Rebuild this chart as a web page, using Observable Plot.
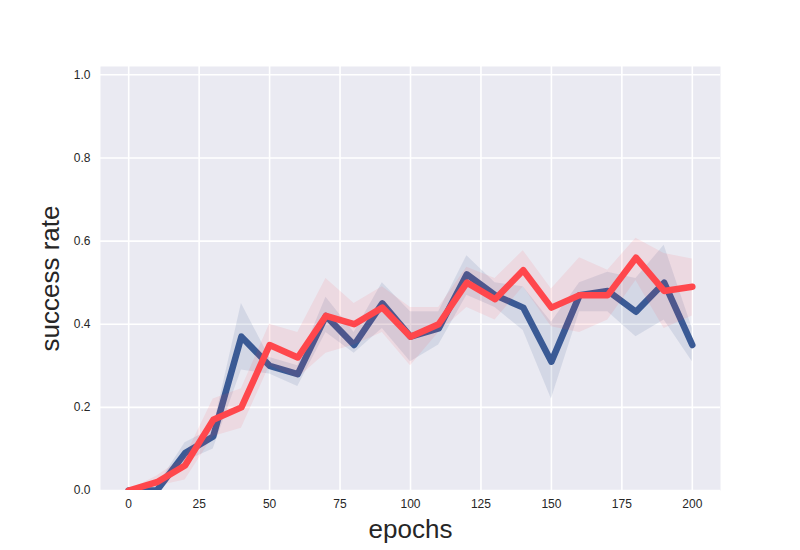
<!DOCTYPE html>
<html>
<head>
<meta charset="utf-8">
<script src="https://cdn.jsdelivr.net/npm/d3@7"></script>
<script src="https://cdn.jsdelivr.net/npm/@observablehq/plot@0.6"></script>
<style>
  html, body { margin: 0; padding: 0; background: #ffffff; }
  #chart { width: 800px; height: 550px; }
</style>
</head>
<body>
<div id="chart"></div>
<script>
const epochs = [0, 10, 20, 30, 40, 50, 60, 70, 80, 90, 100, 110, 120, 130, 140, 150, 160, 170, 180, 190, 200];
const blueMean = [0.00, 0.00, 0.09, 0.13, 0.37, 0.30, 0.28, 0.42, 0.35, 0.45, 0.37, 0.39, 0.52, 0.47, 0.44, 0.31, 0.47, 0.48, 0.43, 0.50, 0.35];
const blueLow  = [0.00, 0.00, 0.07, 0.10, 0.29, 0.28, 0.25, 0.38, 0.33, 0.39, 0.31, 0.35, 0.47, 0.44, 0.385, 0.22, 0.43, 0.43, 0.37, 0.41, 0.31];
const blueHigh = [0.00, 0.01, 0.115, 0.15, 0.45, 0.32, 0.30, 0.465, 0.38, 0.50, 0.43, 0.43, 0.565, 0.50, 0.49, 0.405, 0.50, 0.525, 0.51, 0.59, 0.39];
const redMean  = [0.00, 0.02, 0.06, 0.17, 0.20, 0.35, 0.32, 0.42, 0.40, 0.44, 0.37, 0.40, 0.50, 0.46, 0.53, 0.44, 0.47, 0.47, 0.56, 0.48, 0.49];
const redLow   = [0.00, 0.01, 0.025, 0.13, 0.15, 0.30, 0.27, 0.33, 0.35, 0.38, 0.30, 0.38, 0.44, 0.41, 0.49, 0.394, 0.38, 0.41, 0.505, 0.39, 0.42];
const redHigh  = [0.00, 0.035, 0.08, 0.22, 0.245, 0.40, 0.38, 0.51, 0.45, 0.49, 0.44, 0.44, 0.537, 0.51, 0.577, 0.485, 0.56, 0.53, 0.607, 0.57, 0.557];

const xTicks = [0, 25, 50, 75, 100, 125, 150, 175, 200];
const yTicks = [0.0, 0.2, 0.4, 0.6, 0.8, 1.0];
const xLabel = "epochs";
const yLabel = "success rate";

const blueColor = "#3a5a95";
const redColor = "#ff474c";

const data = epochs.map((e, i) => ({
  epoch: e,
  blue: blueMean[i], blueLo: blueLow[i], blueHi: blueHigh[i],
  red: redMean[i], redLo: redLow[i], redHi: redHigh[i]
}));

const font = "'Liberation Sans', Arial, sans-serif";

const chart = Plot.plot({
  width: 800,
  height: 550,
  marginLeft: 100,
  marginRight: 80,
  marginTop: 66,
  marginBottom: 60,
  style: { fontFamily: font, fontSize: "12px", color: "#262626", background: "#ffffff" },
  x: { domain: [-10, 210], label: null },
  y: { domain: [0, 1.02], label: null },
  marks: [
    Plot.frame({ fill: "#eaeaf2", stroke: null }),
    Plot.gridX(xTicks, { stroke: "#ffffff", strokeOpacity: 1, strokeWidth: 1.6 }),
    Plot.gridY(yTicks, { stroke: "#ffffff", strokeOpacity: 1, strokeWidth: 1.6 }),
    Plot.areaY(data, { x: "epoch", y1: "blueLo", y2: "blueHi", fill: blueColor, fillOpacity: 0.13, clip: true }),
    Plot.lineY(data, { x: "epoch", y: "blue", stroke: blueColor, strokeWidth: 6.5, strokeLinejoin: "round", strokeLinecap: "round", clip: true }),
    Plot.areaY(data, { x: "epoch", y1: "redLo", y2: "redHi", fill: redColor, fillOpacity: 0.1, clip: true }),
    Plot.lineY(data, { x: "epoch", y: "red", stroke: redColor, strokeWidth: 6.5, strokeLinejoin: "round", strokeLinecap: "round", clip: true }),
    Plot.axisX(xTicks, { tickSize: 0, tickPadding: 9, fontSize: 12, label: null, fill: "#262626" }),
    Plot.axisY(yTicks, { tickSize: 0, tickPadding: 10, fontSize: 12, label: null, tickFormat: d3.format(".1f"), fill: "#262626" }),
    Plot.text([xLabel], { frameAnchor: "bottom", dy: 39, fontSize: 26, fill: "#262626", lineAnchor: "middle", textAnchor: "middle" }),
    Plot.text([yLabel], { frameAnchor: "left", dx: -50, rotate: -90, fontSize: 26, fill: "#262626", lineAnchor: "middle", textAnchor: "middle" })
  ]
});

document.getElementById("chart").appendChild(chart);
</script>
</body>
</html>
